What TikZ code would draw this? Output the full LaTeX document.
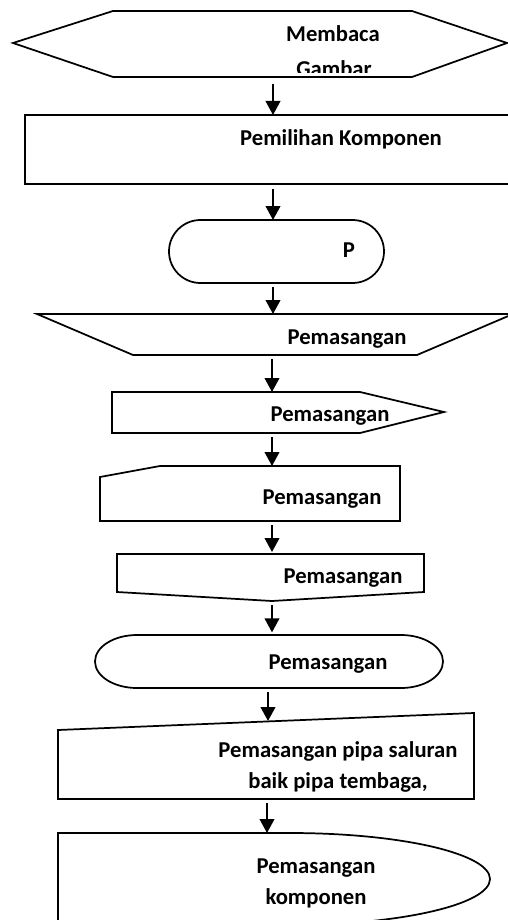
\documentclass[tikz,border=0pt]{standalone}
\usepackage{fontspec}
\setmainfont{Carlito}
\usepackage{tikz}
\usetikzlibrary{arrows.meta}

\begin{document}
\begin{tikzpicture}[x=0.75pt, y=0.75pt,
  outline/.style={draw, line width=1.3pt, line join=miter},
  lbl/.style={anchor=base, inner sep=0pt, font=\fontsize{17}{24}\selectfont\bfseries},
  flow/.style={-{Triangle[length=10.5pt,width=11pt]}, line width=1.4pt, shorten <=3pt}]
\useasboundingbox (0,0) rectangle (507,-920);

% Membaca Gambar
\draw[outline] (13,-43) -- (113,-11) -- (412,-11) -- (507,-43) -- (412,-77) -- (113,-77) -- cycle;
\node[lbl] (membaca) at (333,-42) {Membaca};
\begin{scope}
\clip (113,-11) rectangle (412,-73);
\node[lbl] (gambar) at (334,-77) {Gambar};
\end{scope}
\coordinate (hexS) at (273,-77);

% Pemilihan Komponen
\draw[outline] (25,-115) rectangle (515,-184);
\node[lbl] (pilih) at (341,-146) {Pemilihan Komponen};
\coordinate (pilihN) at (273,-115);
\coordinate (pilihS) at (273,-184);

% P
\draw[outline, rounded corners=23.6pt] (169,-220) rectangle (384,-283);
\node[lbl] (p) at (349,-257) {P};
\coordinate (pN) at (273,-220);
\coordinate (pS) at (273,-283);

% Pemasangan 1
\draw[outline] (37,-314) -- (513,-314) -- (417,-355) -- (133,-355) -- cycle;
\node[lbl] (pasangA) at (347,-344) {Pemasangan};
\coordinate (aN) at (273,-314);
\coordinate (aS) at (272,-355);

% Pemasangan 2
\draw[outline] (112,-392) -- (360,-392) -- (444,-412) -- (360,-433) -- (112,-433) -- cycle;
\node[lbl] (pasangB) at (330,-421) {Pemasangan};
\coordinate (bN) at (272,-392);
\coordinate (bS) at (272,-433);

% Pemasangan 3
\draw[outline] (100,-477) -- (160,-466) -- (400,-466) -- (400,-521) -- (100,-521) -- cycle;
\node[lbl] (pasangC) at (322,-504) {Pemasangan};
\coordinate (cN) at (272,-466);
\coordinate (cS) at (272,-521);

% Pemasangan 4
\draw[outline] (117,-554) -- (424,-554) -- (424,-592) -- (272,-601) -- (117,-592) -- cycle;
\node[lbl] (pasangD) at (343,-583) {Pemasangan};
\coordinate (dN) at (272,-554);
\coordinate (dS) at (272,-601);

% Pemasangan 5
\draw[outline] (137,-635) -- (401,-635) arc[start angle=90, end angle=-90, x radius=42, y radius=26.5]
  -- (137,-688) arc[start angle=270, end angle=90, x radius=42, y radius=26.5] -- cycle;
\node[lbl] (pasangE) at (328,-669) {Pemasangan};
\coordinate (eN) at (272,-635);
\coordinate (eS) at (268,-688);

% Pemasangan pipa
\draw[outline] (58,-730) -- (474,-713) -- (474,-799) -- (58,-799) -- cycle;
\node[lbl] (pipaA) at (338,-757) {Pemasangan pipa saluran};
\begin{scope}
\clip (58,-760) rectangle (474,-791);
\node[lbl] (pipaB) at (338,-788) {baik pipa tembaga,};
\end{scope}
\coordinate (fN) at (268,-721);
\coordinate (fS) at (267,-799);

% Pemasangan komponen
\draw[outline] (58,-925) -- (58,-833) -- (290,-833) arc[start angle=90, end angle=-90, x radius=200, y radius=46] -- cycle;
\node[lbl] (kompA) at (316,-873) {Pemasangan};
\begin{scope}
\clip (58,-876) rectangle (474,-907);
\node[lbl] (kompB) at (316,-904) {komponen};
\end{scope}
\coordinate (gN) at (267,-833);

% Arrows
\draw[flow, shorten <=5pt] (hexS) -- (pilihN);
\draw[flow, shorten <=4pt] (pilihS) -- (pN);
\draw[flow] (pS) -- (aN);
\draw[flow] (aS) -- (bN);
\draw[flow] (bS) -- (cN);
\draw[flow] (cS) -- ([yshift=1.5pt]dN);
\draw[flow] (dS) -- ([yshift=2pt]eN);
\draw[flow] (eS) -- (fN);
\draw[flow] (fS) -- (gN);
\end{tikzpicture}
\end{document}
